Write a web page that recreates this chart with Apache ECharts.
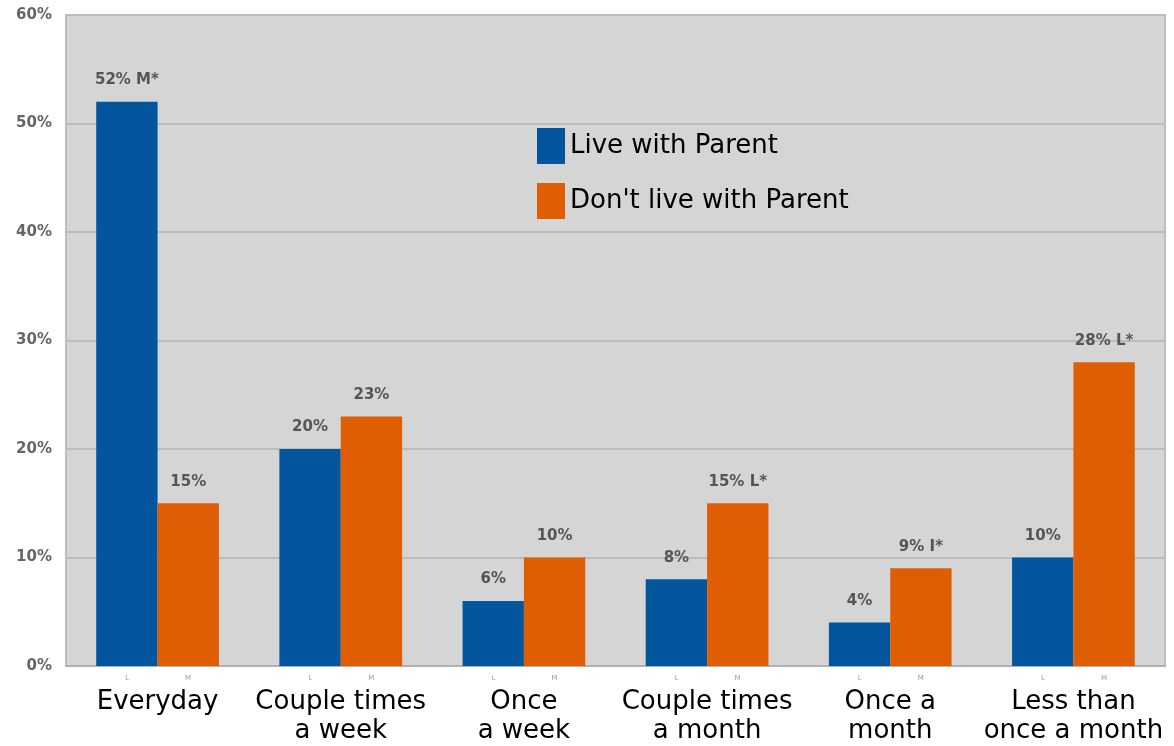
<!DOCTYPE html>
<html>
<head>
<meta charset="utf-8">
<script src="https://cdn.jsdelivr.net/npm/echarts@6/dist/echarts.min.js"></script>
<style>
  html, body { margin: 0; padding: 0; background: #fff; }
  #chart { width: 1174px; height: 746px; }
</style>
</head>
<body>
<div id="chart"></div>
<script>
// How often respondents see a parent, split by living arrangement
const categories = ['Everyday', 'Couple times\na week', 'Once\na week', 'Couple times\na month', 'Once a\nmonth', 'Less than\nonce a month'];
const seriesNames = ['Live with Parent', "Don't live with Parent"];
const barTags = ['L', 'M'];
const liveWith = [52, 20, 6, 8, 4, 10];
const liveApart = [15, 23, 10, 15, 9, 28];
const liveWithNotes = ['M*', '', '', '', '', ''];
const liveApartNotes = ['', '', '', 'L*', 'I*', 'L*'];
const yTicks = [0, 10, 20, 30, 40, 50, 60];

const chart = echarts.init(document.getElementById('chart'));

function valueLabel(notes) {
  return {
    show: true,
    position: 'top',
    distance: 14,
    color: '#555',
    fontFamily: 'DejaVu Sans',
    fontWeight: 'bold',
    fontSize: 15,
    formatter: p => p.value + '%' + (notes[p.dataIndex] ? ' ' + notes[p.dataIndex] : '')
  };
}

chart.setOption({
  backgroundColor: '#ffffff',
  animation: false,
  grid: {
    left: 66, right: 9, top: 15, bottom: 75,
    show: true,
    backgroundColor: '#d5d5d5',
    borderColor: '#bdbdbd',
    borderWidth: 2
  },
  legend: {
    orient: 'vertical',
    left: 537, top: 128,
    padding: 0,
    itemWidth: 28, itemHeight: 36, itemGap: 19,
    icon: 'rect',
    textStyle: { fontFamily: 'DejaVu Sans', fontSize: 26, color: '#000' },
    data: seriesNames
  },
  xAxis: {
    type: 'category',
    data: categories,
    axisLine: { show: true, lineStyle: { color: '#b0b0b0', width: 2 } },
    axisTick: { show: false },
    axisLabel: {
      interval: 0,
      margin: 3,
      fontFamily: 'DejaVu Sans',
      fontSize: 26,
      lineHeight: 29,
      color: '#000',
      // a tiny series tag under each bar, then the category name
      formatter: v => '{tag|' + barTags[0] + '}{gap|}{tag|' + barTags[1] + '}\n' + v,
      rich: {
        tag: { fontSize: 7, lineHeight: 19, color: '#9a9a9a', fontFamily: 'DejaVu Sans', width: 6, align: 'center' },
        gap: { width: 55, lineHeight: 19 }
      }
    }
  },
  yAxis: {
    type: 'value',
    min: yTicks[0], max: yTicks[yTicks.length - 1], interval: 10,
    axisLine: { show: false },
    axisTick: { show: false },
    splitLine: { lineStyle: { color: '#bcbcbc', width: 2 } },
    axisLabel: {
      margin: 14,
      fontFamily: 'DejaVu Sans',
      fontWeight: 'bold',
      fontSize: 15,
      color: '#666',
      formatter: v => v + '%'
    }
  },
  series: [
    {
      name: seriesNames[0],
      type: 'bar',
      data: liveWith,
      barGap: '0%',
      barCategoryGap: '33%',
      itemStyle: { color: '#03569d' },
      label: valueLabel(liveWithNotes)
    },
    {
      name: seriesNames[1],
      type: 'bar',
      data: liveApart,
      itemStyle: { color: '#e05e03' },
      label: valueLabel(liveApartNotes)
    }
  ]
});
</script>
</body>
</html>
